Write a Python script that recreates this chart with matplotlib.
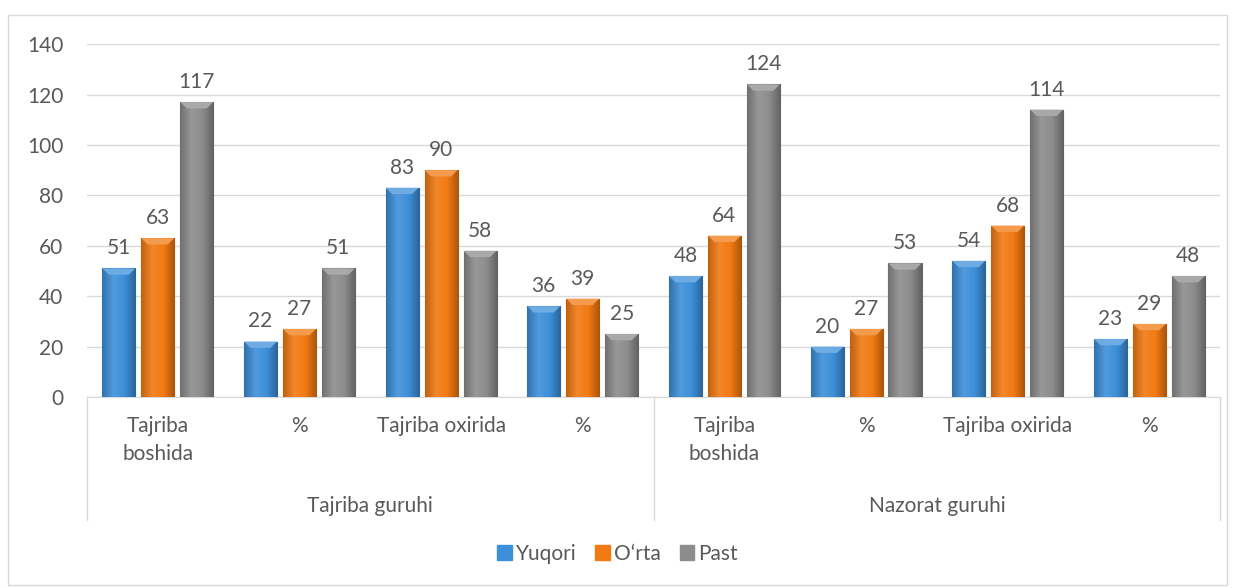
import numpy as np
import matplotlib.pyplot as plt
from matplotlib.colors import LinearSegmentedColormap, to_rgb
from matplotlib.patches import Rectangle, Polygon

categories = ["Tajriba\nboshida", "%", "Tajriba oxirida", "%",
              "Tajriba\nboshida", "%", "Tajriba oxirida", "%"]
groups = ["Tajriba guruhi", "Nazorat guruhi"]
series = ["Yuqori", "O\u2018rta", "Past"]
yuqori = [51, 22, 83, 36, 48, 20, 54, 23]
orta = [63, 27, 90, 39, 64, 27, 68, 29]
past = [117, 51, 58, 25, 124, 53, 114, 48]
colors = ["#3D8FD9", "#F27A12", "#8C8C8C"]

plt.rcParams["font.family"] = ["Lato", "DejaVu Sans"]
text_color = "#595959"
fs = 15

fig = plt.figure(figsize=(12.35, 5.88), dpi=100)
ax = fig.add_axes([0.0704, 0.3248, 0.9176, 0.6002])

x = np.arange(len(categories))
width = 0.233
step = 0.275


def shade(col, f):
    r, g, b = to_rgb(col)
    if f < 1:
        return (r * f, g * f, b * f)
    return (r + (1 - r) * (f - 1), g + (1 - g) * (f - 1), b + (1 - b) * (f - 1))


grad = np.linspace(0, 1, 64).reshape(1, -1)
for i, (vals, col) in enumerate(zip([yuqori, orta, past], colors)):
    bars = ax.bar(x + (i - 1) * step, vals, width, color=col, label=series[i],
                  edgecolor=shade(col, 0.75), linewidth=0.8, zorder=2)
    cmap = LinearSegmentedColormap.from_list(
        "g", [shade(col, 0.8), shade(col, 1.1), col, shade(col, 0.7)])
    for b in bars:
        x0, w, h = b.get_x(), b.get_width(), b.get_height()
        im = ax.imshow(grad, cmap=cmap, aspect="auto", zorder=3,
                       extent=[x0, x0 + w, 0, h])
        im.set_clip_path(b)
        # light bevel at the top of the bar
        bev = Polygon([(x0, h), (x0 + w, h), (x0 + w * 0.8, h - 2.5),
                       (x0 + w * 0.2, h - 2.5)], closed=True,
                      color=shade(col, 1.25), zorder=4, linewidth=0)
        ax.add_patch(bev)
        ax.text(x0 + w / 2, h + 4, str(int(h)), ha="center", va="bottom",
                fontsize=fs, color=text_color, zorder=5)

ax.set_xlim(-0.5, len(categories) - 0.5)
ax.set_ylim(0, 140)
ax.set_yticks(range(0, 141, 20))
ax.tick_params(axis="y", length=0, labelsize=fs, labelcolor=text_color, pad=17)
ax.set_xticks([])
ax.grid(axis="y", color="#D9D9D9", linewidth=1, zorder=0)
ax.set_axisbelow(True)
for s in ["left", "right", "top"]:
    ax.spines[s].set_visible(False)
ax.spines["bottom"].set_color("#D9D9D9")

trans = ax.get_xaxis_transform()
for xs in [-0.5, 3.5, 7.5]:
    ax.plot([xs, xs], [0, -0.348], transform=trans, color="#D9D9D9",
            linewidth=1, clip_on=False)
for xi, lab in zip(x, categories):
    ax.text(xi, -0.055, lab, transform=trans, ha="center", va="top",
            fontsize=fs, color=text_color, linespacing=1.45)
for gi, g in enumerate(groups):
    ax.text(1.5 + 4 * gi, -0.31, g, transform=trans, ha="center",
            va="center", fontsize=fs, color=text_color)

handles = [Rectangle((0, 0), 1, 1, color=c) for c in colors]
fig.legend(handles, series, loc="center", bbox_to_anchor=(0.5, 0.058),
           ncol=3, frameon=False, fontsize=fs, handlelength=0.7,
           handleheight=0.7, handletextpad=0.2, columnspacing=0.9,
           labelcolor=text_color)

fig.add_artist(Rectangle((8 / 1235, 3 / 588), 1219 / 1235, 570 / 588,
                         transform=fig.transFigure, fill=False,
                         edgecolor="#D9D9D9", linewidth=1))

fig.savefig("out.png", dpi=100)
